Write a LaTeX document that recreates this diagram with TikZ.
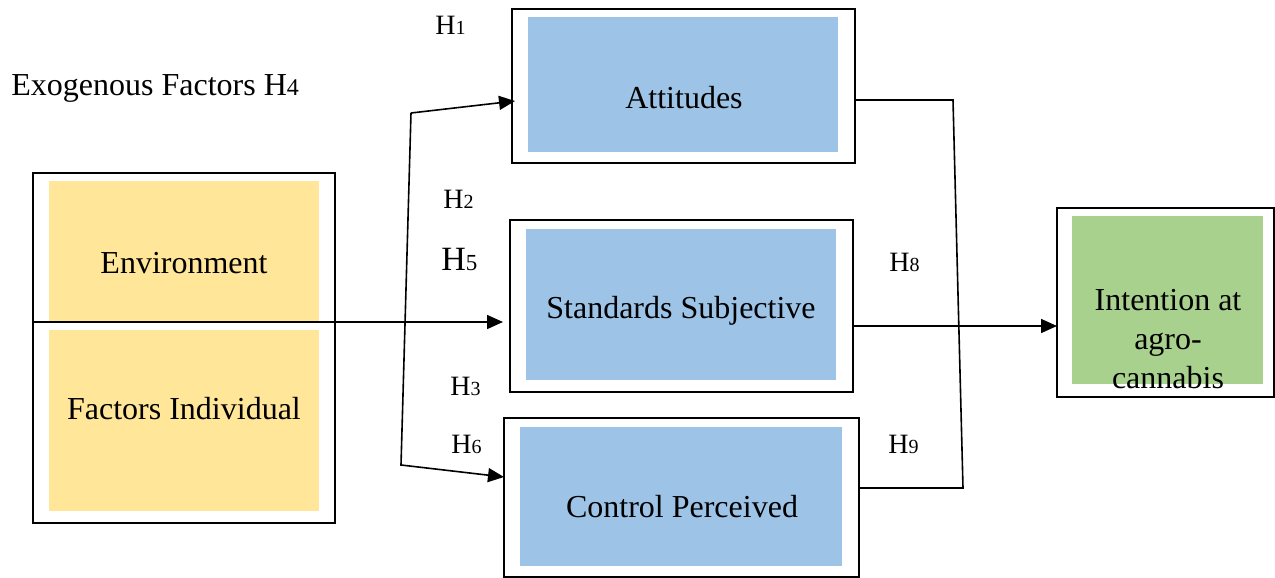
\documentclass[tikz,border=0pt]{standalone}
\usepackage{fontspec}
\setmainfont{Liberation Serif}
\usetikzlibrary{arrows.meta,fit}
\definecolor{boxblue}{RGB}{157,195,230}
\definecolor{boxyellow}{RGB}{255,230,153}
\definecolor{boxgreen}{RGB}{169,209,142}
\tikzset{
  outerbox/.style={draw=black, line width=1pt, inner sep=0pt, fill=white},
  innerfill/.style={draw=none, inner sep=0pt},
  lbl/.style={anchor=base, inner sep=0pt, font=\fontsize{16}{19.5}\selectfont},
  hyp/.style={anchor=base west, inner sep=0pt, font=\fontsize{14}{16}\selectfont},
  hypbig/.style={anchor=base west, inner sep=0pt, font=\fontsize{17}{19}\selectfont},
  conn/.style={line width=0.8pt},
  arr/.style={conn, -{Triangle[length=8pt,width=7pt]}},
}
\newcommand{\hypdigit}[1]{{\fontsize{10}{12}\selectfont #1}}
\newcommand{\hypdigitbig}[1]{{\fontsize{11.5}{13}\selectfont #1}}
\begin{document}
\begin{tikzpicture}[x=0.5pt,y=-0.5pt]
\useasboundingbox (0,0) rectangle (1275,578);

% outer boxes
\node[outerbox, fit={(33,173) (335,523)}] (exo) {};
\node[outerbox, fit={(512,9) (855,163)}] (att) {};
\node[outerbox, fit={(510,220) (853,392)}] (ss) {};
\node[outerbox, fit={(504,418) (859,577)}] (cp) {};
\node[outerbox, fit={(1057,208) (1274,397)}] (int) {};

% inner fills
\node[innerfill, fill=boxyellow, fit={(49,181) (319,322)}] (envf) {};
\node[innerfill, fill=boxyellow, fit={(49,330) (319,511)}] (indf) {};
\node[innerfill, fill=boxblue, fit={(528,17) (838,152)}] (attf) {};
\node[innerfill, fill=boxblue, fit={(526,229) (836,380)}] (ssf) {};
\node[innerfill, fill=boxblue, fit={(520,427) (842,566)}] (cpf) {};
\node[innerfill, fill=boxgreen, fit={(1072,216) (1263,384)}] (intf) {};

% texts
\node[lbl] (envt) at (184,273) {Environment};
\node[lbl] (indt) at (184,419) {Factors Individual};
\node[lbl] (attt) at (684,108) {Attitudes};
\node[lbl] (sst) at (681,318) {Standards Subjective};
\node[lbl] (cpt) at (682,517) {Control Perceived};
\node[inner sep=0pt, align=center, font=\fontsize{16}{19.5}\selectfont] (intt) at (1168,339) {Intention at\\agro-\\cannabis};

% hypothesis labels
\node[anchor=base west, inner sep=0pt, font=\fontsize{16}{19}\selectfont] (exot) at (11,95) {Exogenous Factors H{\fontsize{12}{14}\selectfont 4}};
\node[hyp] (h1) at (435,34) {H\hypdigit{1}};
\node[hyp] (h2) at (443,208) {H\hypdigit{2}};
\node[hypbig] (h5) at (441,270) {H\hypdigitbig{5}};
\node[hyp] (h3) at (450,395) {H\hypdigit{3}};
\node[hyp] (h6) at (451,453) {H\hypdigit{6}};
\node[hyp] (h8) at (889,271) {H\hypdigit{8}};
\node[hyp] (h9) at (888,453) {H\hypdigit{9}};

% connector coordinates
\coordinate (sIn) at (503,322);
\coordinate (bt) at (411,113);
\coordinate (bb) at (401,465);
\coordinate (aIn) at (515,101);
\coordinate (cIn) at (504,477);
\coordinate (rt) at (953,100);
\coordinate (rb) at (963,488);
\coordinate (iIn) at (1057,326);

% connectors
\draw[arr] (exo.west |- sIn) -- (sIn);
\draw[arr] (bt) -- (aIn);
\draw[arr] (bt) -- (bb) -- (cIn);
\draw[conn] (att.east |- rt) -- (rt) -- (rb) -- (cp.east |- rb);
\draw[arr] (ss.east |- iIn) -- (iIn);
\end{tikzpicture}
\end{document}
